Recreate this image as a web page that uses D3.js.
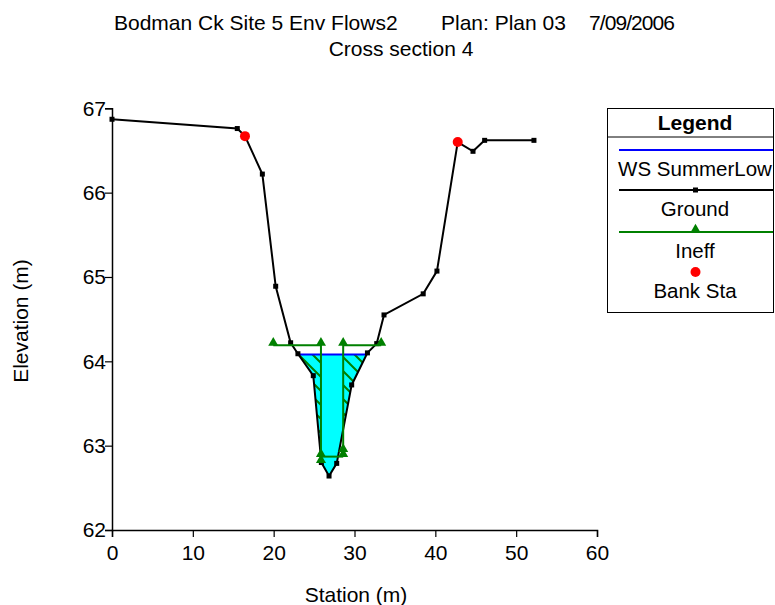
<!DOCTYPE html>
<html>
<head>
<meta charset="utf-8">
<script src="https://cdn.jsdelivr.net/npm/d3@7"></script>
<style>
  body { margin: 0; background: #fff; }
  text { font-family: "Liberation Sans", Arial, sans-serif; fill: #000; }
</style>
</head>
<body>
<svg id="chart" width="775" height="605"></svg>
<script>
// ground profile (station m, elevation m)
const groundSta  = [0, 15.5, 18.6, 20.25, 22.1, 23.0, 24.9, 25.9, 26.85, 27.8, 29.65, 31.6, 32.75, 33.65, 38.5, 40.2, 44.66, 46.1, 52.2];
const groundElev = [66.87, 66.76, 66.22, 64.89, 64.22, 64.09, 63.83, 62.80, 62.64, 62.79, 63.72, 64.10, 64.21, 64.55, 64.80, 65.07, 66.49, 66.62, 66.62];

// bank stations (they sit on the ground line)
const bankSta  = [16.45, 42.77];
const bankElev = [66.67, 66.60];

// water surface
const wsElev = 64.08;

// ineffective flow lines
const ineffLeftSta    = [19.95, 25.85, 25.85];
const ineffLeftElev   = [64.19, 64.19, 62.80];
const ineffRightSta   = [33.3, 28.6, 28.6];
const ineffRightElev  = [64.19, 64.19, 62.93];
const ineffBottomSta  = [25.85, 28.6];
const ineffBottomElev = [62.87, 62.87];

const xTicks = [0, 10, 20, 30, 40, 50, 60];
const yTicks = [62, 63, 64, 65, 66, 67];

const legendItems = ["WS SummerLow", "Ground", "Ineff", "Bank Sta"];

const svg = d3.select("#chart");
const x = d3.scaleLinear().domain([0, 60]).range([112, 597]);
const y = d3.scaleLinear().domain([62, 67]).range([530, 108.3]);

const groundPts = groundSta.map((s, i) => [s, groundElev[i]]);
const bankPts = bankSta.map((s, i) => [s, bankElev[i]]);
const ground = groundPts.concat(bankPts).sort((a, b) => a[0] - b[0]);
const line = d3.line().x(d => x(d[0])).y(d => y(d[1]));

// titles
const tf = "21px";
svg.append("text").attr("x", 114).attr("y", 30).style("font-size", tf).text("Bodman Ck Site 5 Env Flows2");
svg.append("text").attr("x", 441).attr("y", 30).style("font-size", tf).text("Plan: Plan 03");
svg.append("text").attr("x", 589).attr("y", 30).style("font-size", tf).attr("textLength", 86).text("7/09/2006");
svg.append("text").attr("x", 401).attr("y", 56).attr("text-anchor", "middle").style("font-size", tf).text("Cross section 4");

// water polygon: find crossings around the channel low point
const gElev = ground.map(d => d[1]);
let iMin = d3.minIndex(gElev);
let li = iMin; while (li > 0 && gElev[li - 1] < wsElev) li--;
let ri = iMin; while (ri < ground.length - 1 && gElev[ri + 1] < wsElev) ri++;
function cross(a, b) {
  const t = (wsElev - a[1]) / (b[1] - a[1]);
  return [a[0] + t * (b[0] - a[0]), wsElev];
}
const wl = cross(ground[li - 1], ground[li]);
const wr = cross(ground[ri], ground[ri + 1]);
const water = [wl].concat(ground.slice(li, ri + 1), [wr]);

const defs = svg.append("defs");
defs.append("clipPath").attr("id", "waterClip")
  .append("path").attr("d", line(water) + "Z");
const pat = defs.append("pattern").attr("id", "hatch")
  .attr("patternUnits", "userSpaceOnUse").attr("width", 14).attr("height", 14);
pat.append("path").attr("d", "M0,0L14,14M-2,12L2,16M12,-2L16,2")
  .attr("stroke", "#008000").attr("stroke-width", 2);

svg.append("path").attr("d", line(water) + "Z").attr("fill", "#00ffff");

// hatched ineffective parts of the water
const hatchG = svg.append("g").attr("clip-path", "url(#waterClip)");
hatchG.append("rect").attr("x", x(wl[0]) - 5).attr("y", y(wsElev))
  .attr("width", x(ineffLeftSta[1]) - x(wl[0]) + 5).attr("height", y(62) - y(wsElev))
  .attr("fill", "url(#hatch)");
hatchG.append("rect").attr("x", x(ineffRightSta[1])).attr("y", y(wsElev))
  .attr("width", x(wr[0]) - x(ineffRightSta[1]) + 5).attr("height", y(62) - y(wsElev))
  .attr("fill", "url(#hatch)");

// water surface line
svg.append("path").attr("d", line([wl, wr])).attr("stroke", "#0000ff").attr("stroke-width", 2).attr("fill", "none");

// ground
svg.append("path").attr("d", line(ground)).attr("stroke", "#000").attr("stroke-width", 2).attr("fill", "none");
svg.selectAll(".gpt").data(groundPts).join("rect").attr("class", "gpt")
  .attr("x", d => x(d[0]) - 2.5).attr("y", d => y(d[1]) - 2.5)
  .attr("width", 5).attr("height", 5).attr("fill", "#000");

// ineffective lines
const tri = d3.symbol().type(d3.symbolTriangle).size(44);
[[ineffLeftSta, ineffLeftElev], [ineffRightSta, ineffRightElev], [ineffBottomSta, ineffBottomElev]].forEach(([s, e]) => {
  const pts = s.map((v, i) => [v, e[i]]);
  svg.append("path").attr("d", line(pts)).attr("stroke", "#008000").attr("stroke-width", 2).attr("fill", "none");
  svg.append("g").selectAll("path").data(pts).join("path")
    .attr("d", tri).attr("transform", d => `translate(${x(d[0])},${y(d[1]) - 2.5})`)
    .attr("fill", "#008000");
});

// bank stations
svg.selectAll(".bank").data(bankPts).join("circle").attr("class", "bank")
  .attr("cx", d => x(d[0])).attr("cy", d => y(d[1])).attr("r", 5).attr("fill", "#ff0000");

// axes
const xAxis = svg.append("g").attr("transform", `translate(0,${y(62)})`);
xAxis.call(d3.axisBottom(x).tickValues(d3.range(0, 61, 2)).tickSize(5).tickFormat(""));
xAxis.call(d3.axisBottom(x).tickValues(xTicks).tickSize(7).tickFormat(d3.format("d")));
const yAxis = svg.append("g").attr("transform", `translate(${x(0)},0)`);
yAxis.call(d3.axisLeft(y).tickValues(d3.range(62, 67.01, 0.2)).tickSize(6).tickFormat(""));
yAxis.call(d3.axisLeft(y).tickValues(yTicks).tickSize(7).tickFormat(d3.format("d")));
svg.selectAll(".domain").attr("stroke", "#000").attr("stroke-width", 1.5);
svg.selectAll(".tick line").attr("stroke", "#000").attr("stroke-width", 1.2);
xAxis.selectAll("text").style("font-size", "21px").attr("dy", "0.95em");
yAxis.selectAll("text").style("font-size", "21px").attr("x", -6);

svg.append("text").attr("x", 356).attr("y", 602).attr("text-anchor", "middle").style("font-size", "21px").text("Station (m)");
svg.append("text").attr("transform", "translate(28,321) rotate(-90)").attr("text-anchor", "middle").style("font-size", "21px").text("Elevation (m)");

// legend
const lg = svg.append("g");
lg.append("rect").attr("x", 607.5).attr("y", 108.5).attr("width", 166).attr("height", 204)
  .attr("fill", "#fff").attr("stroke", "#000").attr("stroke-width", 1);
lg.append("line").attr("x1", 607.5).attr("x2", 773.5).attr("y1", 137).attr("y2", 137).attr("stroke", "#000");
lg.append("text").attr("x", 695).attr("y", 130).attr("text-anchor", "middle")
  .style("font-size", "21px").style("font-weight", "bold").text("Legend");
const lgY = [150, 190, 232, 272];
lg.append("line").attr("x1", 619).attr("x2", 773).attr("y1", lgY[0]).attr("y2", lgY[0]).attr("stroke", "#0000ff").attr("stroke-width", 2);
lg.append("line").attr("x1", 619).attr("x2", 773).attr("y1", lgY[1]).attr("y2", lgY[1]).attr("stroke", "#000").attr("stroke-width", 2);
lg.append("rect").attr("x", 693).attr("y", lgY[1] - 2.5).attr("width", 5).attr("height", 5).attr("fill", "#000");
lg.append("line").attr("x1", 619).attr("x2", 773).attr("y1", lgY[2]).attr("y2", lgY[2]).attr("stroke", "#008000").attr("stroke-width", 2);
lg.append("path").attr("d", tri).attr("transform", `translate(695.5,${lgY[2] - 2.5})`).attr("fill", "#008000");
lg.append("circle").attr("cx", 695.5).attr("cy", lgY[3]).attr("r", 5).attr("fill", "#ff0000");
lg.selectAll(".lt").data(legendItems).join("text").attr("class", "lt")
  .attr("x", 695).attr("y", (d, i) => lgY[i] + 26).attr("text-anchor", "middle")
  .style("font-size", "20.5px").text(d => d);
</script>
</body>
</html>
